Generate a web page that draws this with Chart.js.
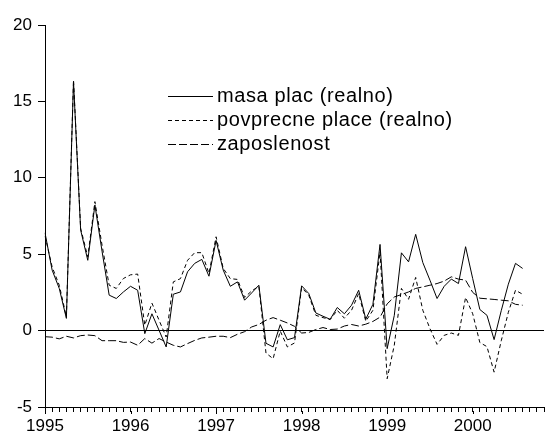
<!DOCTYPE html>
<html>
<head>
<meta charset="utf-8">
<script src="https://cdn.jsdelivr.net/npm/chart.js@4.4.1/dist/chart.umd.min.js"></script>
<style>
  html, body { margin: 0; padding: 0; background: #fff; }
</style>
</head>
<body>
<canvas id="chart" width="548" height="435"></canvas>
<script>
// year labels on the x axis (monthly data, axis runs Jan 1995 - Nov 2000)
const years = ['1995', '1996', '1997', '1998', '1999', '2000'];
const axisMonths = 71;

// masa plac (realno)
const masaPlac = [
  6.4, 3.96, 2.76, 0.8, 16.3, 6.58, 4.6, 8.22, 5.2, 2.32, 2.1, 2.53,
  2.9, 2.64, -0.2, 1.1, 0.02, -1.07, 2.38, 2.53, 3.85, 4.4, 4.66, 3.56,
  5.9, 3.96, 2.9, 3.19, 1.99, 2.47, 2.97, -0.83, -1.07, 0.39, -0.6, -0.46,
  2.93, 2.43, 1.15, 0.94, 0.74, 1.51, 1.1, 1.66, 2.64, 0.75, 1.72, 5.64,
  -1.18, 1.0, 5.09, 4.5, 6.3, 4.45, 3.3, 2.1, 2.9, 3.37, 3.08, 5.49,
  3.4, 1.38, 1.0, -0.59, 1.3, 3.04, 4.4, 4.07
];

// povprecne place (realno)
const povprecnePlace = [
  6.2, 4.17, 2.97, 0.9, 16.4, 6.69, 4.83, 8.44, 5.6, 2.97, 2.76, 3.41,
  3.65, 3.7, 0.35, 1.8, 0.68, -0.42, 3.19, 3.4, 4.6, 5.1, 5.1, 3.74,
  6.14, 4.07, 3.4, 3.35, 2.17, 2.6, 2.9, -1.47, -1.84, -0.03, -1.07, -0.81,
  2.82, 2.32, 1.0, 0.85, 0.72, 1.33, 0.81, 1.33, 2.43, 0.61, 1.33, 5.16,
  -3.15, -0.95, 2.76, 2.05, 3.48, 1.33, 0.13, -0.9, -0.31, -0.16, -0.31, 2.17,
  1.1, -0.78, -1.05, -2.72, -0.67, 1.2, 2.64, 2.38
];

// zaposlenost
const zaposlenost = [
  -0.4, -0.43, -0.54, -0.37, -0.48, -0.33, -0.29, -0.33, -0.66, -0.66, -0.66, -0.77,
  -0.75, -0.96, -0.52, -0.82, -0.52, -0.75, -0.96, -1.07, -0.85, -0.64, -0.48, -0.43,
  -0.37, -0.37, -0.46, -0.24, -0.07, 0.24, 0.4, 0.68, 0.85, 0.68, 0.5, 0.28,
  -0.16, -0.12, 0.07, 0.2, 0.07, 0.1, 0.3, 0.4, 0.3, 0.42, 0.6, 0.88,
  1.75, 2.2, 2.36, 2.53, 2.76, 2.86, 2.97, 3.08, 3.24, 3.52, 3.37, 3.3,
  2.5, 2.12, 2.08, 2.04, 1.99, 1.95, 1.72, 1.66
];

const months = [];
years.forEach(y => {
    for (let m = 1; m <= 12; m++) months.push(y + 'M' + (m < 10 ? '0' + m : m));
});
const labels = months.slice(0, axisMonths);

const FONT = 'Liberation Sans, Arial, Helvetica, sans-serif';

// longer ticks on the year marks
const yearTicks = {
    id: 'yearTicks',
    afterDraw(chart) {
        const ctx = chart.ctx;
        const x = chart.scales.x;
        ctx.save();
        ctx.strokeStyle = '#000';
        ctx.lineWidth = 1;
        years.forEach((y, i) => {
            const px = Math.round(x.getPixelForValue(i * 12)) + 0.5;
            ctx.beginPath();
            ctx.moveTo(px, x.top + 4);
            ctx.lineTo(px, x.top + 7);
            ctx.stroke();
        });
        ctx.restore();
    }
};

// legend drawn inside the plot, like the original
const innerLegend = {
    id: 'innerLegend',
    afterDraw(chart) {
        const ctx = chart.ctx;
        ctx.save();
        ctx.font = '20px ' + FONT;
        ctx.letterSpacing = '0.6px';
        ctx.textBaseline = 'middle';
        ctx.fillStyle = '#000';
        chart.data.datasets.forEach((ds, i) => {
            const y = 96.5 + i * 24;
            ctx.strokeStyle = '#000';
            ctx.lineWidth = 1;
            ctx.setLineDash(ds.borderDash || []);
            ctx.beginPath();
            ctx.moveTo(168, y);
            ctx.lineTo(213, y);
            ctx.stroke();
            ctx.setLineDash([]);
            ctx.fillText(ds.label, 217, y);
        });
        ctx.restore();
    }
};

new Chart(document.getElementById('chart'), {
    type: 'line',
    data: {
        labels: labels,
        datasets: [
            { label: 'masa plac (realno)', data: masaPlac, borderDash: [] },
            { label: 'povprecne place (realno)', data: povprecnePlace, borderDash: [4, 3] },
            { label: 'zaposlenost', data: zaposlenost, borderDash: [8, 3] }
        ]
    },
    options: {
        responsive: false,
        animation: false,
        layout: { padding: { top: 25, right: 0, left: 0, bottom: 0 } },
        plugins: { legend: { display: false }, tooltip: { enabled: false } },
        elements: {
            point: { radius: 0 },
            line: { borderWidth: 1, borderColor: '#000', tension: 0, fill: false }
        },
        scales: {
            x: {
                type: 'category',
                offset: false,
                grid: { drawOnChartArea: false, tickLength: 5, tickColor: '#000' },
                border: { display: true, color: '#000', width: 1 },
                ticks: {
                    autoSkip: false,
                    maxRotation: 0,
                    padding: 4,
                    color: '#000',
                    font: { family: FONT, size: 17 },
                    callback: (v, i) => i % 12 === 0 ? years[i / 12] : ''
                },
                afterFit: s => { s.height = 28; }
            },
            y: {
                min: -5,
                max: 20,
                ticks: { stepSize: 5, padding: 6, color: '#000', font: { family: FONT, size: 17 } },
                grid: {
                    color: c => (c.tick && c.tick.value === 0) ? '#000' : 'rgba(0,0,0,0)',
                    tickColor: '#000',
                    tickLength: 7
                },
                border: { display: true, color: '#000', width: 1 },
                afterFit: s => { s.width = 45; }
            }
        }
    },
    plugins: [yearTicks, innerLegend]
});
</script>
</body>
</html>
